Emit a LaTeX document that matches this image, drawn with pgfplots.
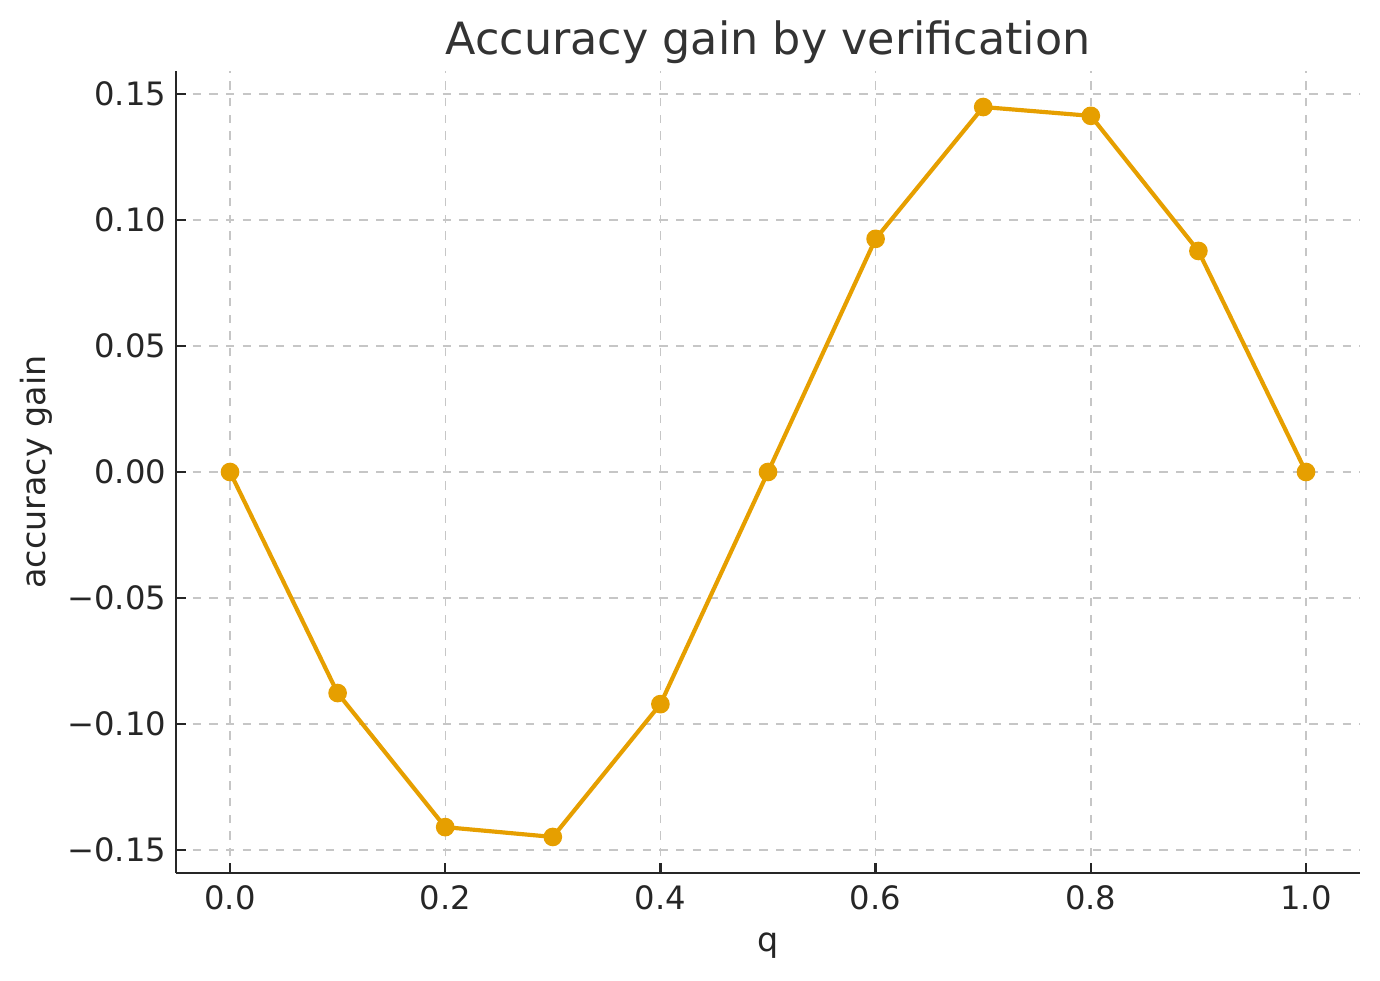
\documentclass[border=0pt]{standalone}
\usepackage{pgfplots}
\pgfplotsset{compat=1.18}
\usepackage{fontspec}
\setmainfont{DejaVu Sans}
\definecolor{lineor}{HTML}{E69F00}
\definecolor{spine}{HTML}{262626}
\definecolor{titlec}{HTML}{333333}
\begin{document}
\begin{tikzpicture}
\path[use as bounding box] (-63.36pt,-38.52pt) rectangle (433.44pt,314.28pt);
\begin{axis}[
  at={(0pt,0pt)}, anchor=south west,
  scale only axis,
  width=426.24pt, height=288.72pt,
  xmin=-0.0502, xmax=1.0502,
  ymin=-0.1591, ymax=0.1591,
  axis x line*=bottom, axis y line*=left,
  axis line style={spine, line width=0.8pt},
  tick style={spine, line width=0.8pt},
  tick align=inside,
  major tick length=3.5pt,
  xtick={0,0.2,0.4,0.6,0.8,1.0},
  xticklabels={0.0,0.2,0.4,0.6,0.8,1.0},
  ytick={-0.15,-0.10,-0.05,0,0.05,0.10,0.15},
  yticklabels={−0.15,−0.10,−0.05,0.00,0.05,0.10,0.15},
  ticklabel style={font=\fontsize{11.6}{13}\selectfont, text=spine},
  yticklabel style={xshift=0pt},
  xticklabel style={yshift=-1pt},
  grid=major,
  major grid style={gray!45, dashed, line width=0.5pt},
  xlabel={q}, ylabel={accuracy gain},
  label style={font=\fontsize{12}{14}\selectfont, text=spine},
  xlabel style={yshift=-1.5pt},
  ylabel style={yshift=-1.6pt},
  title={Accuracy gain by verification},
  title style={font=\fontsize{16}{19}\selectfont, text=titlec, yshift=-7pt},
  clip=false,
]
\addplot[color=lineor, line width=1.5pt, mark=*, mark size=2.6pt, mark options={fill=lineor, draw=lineor}]
coordinates {
(0.0,0.0)
(0.1,-0.0877)
(0.2,-0.1409)
(0.3,-0.1448)
(0.4,-0.0921)
(0.5,0.0)
(0.6,0.0925)
(0.7,0.1448)
(0.8,0.1413)
(0.9,0.0877)
(1.0,0.0)
};
\end{axis}
\end{tikzpicture}
\end{document}
